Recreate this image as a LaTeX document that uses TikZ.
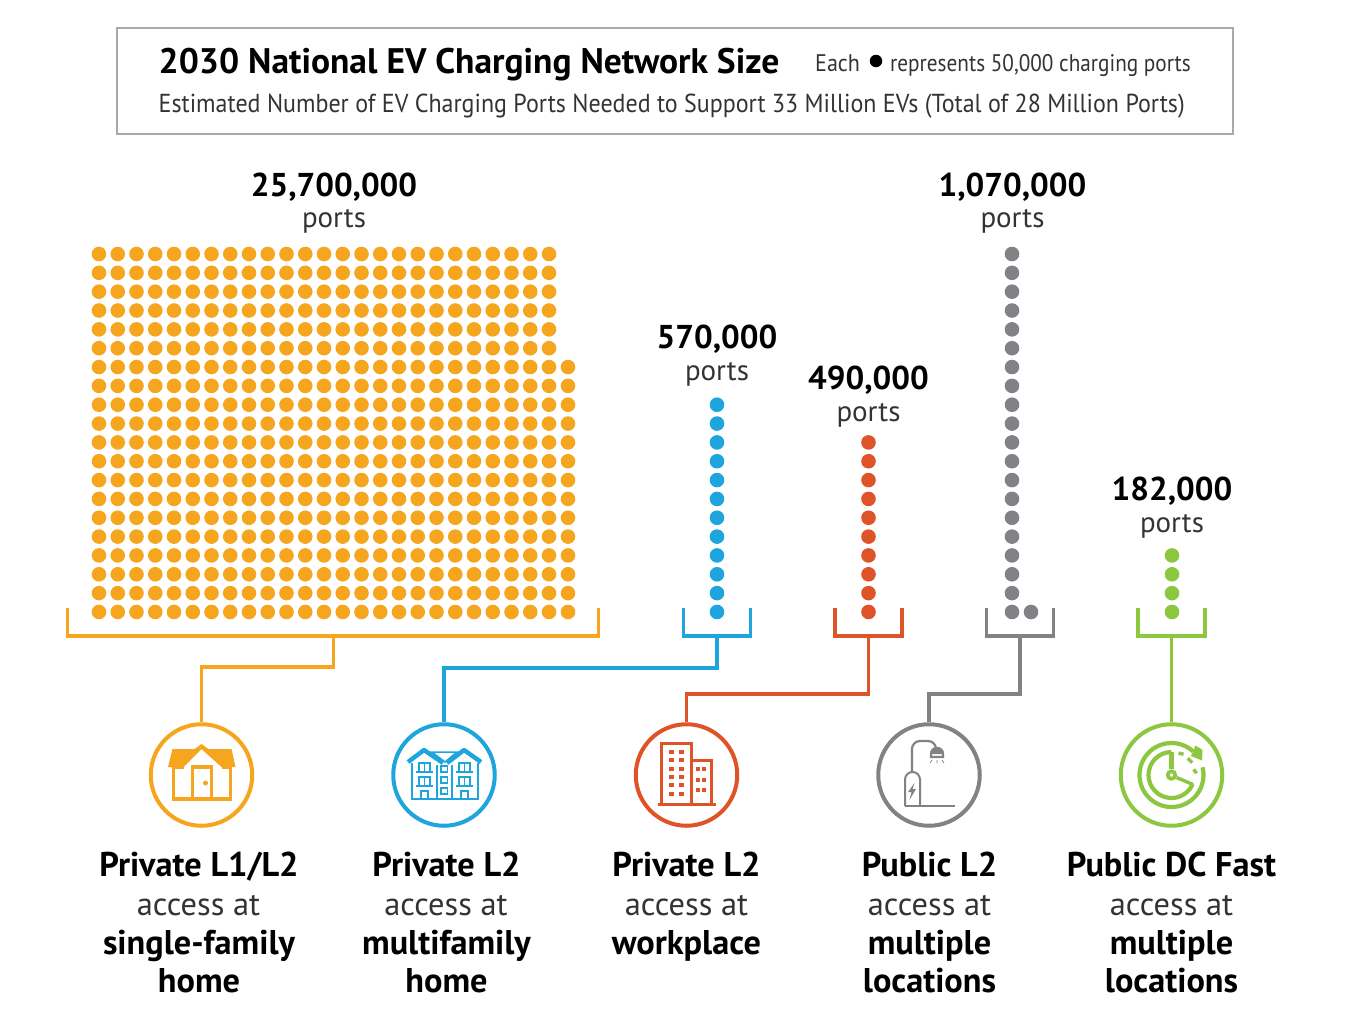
\documentclass[tikz,border=0pt]{standalone}
\usepackage{fontspec}
\setmainfont{PT Sans}
\usetikzlibrary{calc}
\definecolor{cO}{HTML}{F6A51F}
\definecolor{cB}{HTML}{1FA5DE}
\definecolor{cR}{HTML}{DE5428}
\definecolor{cG}{HTML}{808285}
\definecolor{cL}{HTML}{8DC63F}
\definecolor{cBox}{HTML}{A7A9AC}
\tikzset{
  px/.style={x=1pt,y=-1pt},
  dot/.style={circle,fill=#1,draw=none,inner sep=0pt,minimum size=14.6pt},
  link/.style={line width=3.6pt,draw=#1,line join=miter},
  ring/.style={circle,draw=#1,line width=4pt,fill=white,inner sep=0pt,minimum size=101.5pt},
  numtxt/.style={anchor=base,inner sep=0pt,font=\fontsize{33}{33}\selectfont\bfseries},
  lgt/.style={anchor=base,inner sep=0pt,font=\fontsize{29}{29}\selectfont,text=black!80},
  acc/.style={anchor=base,inner sep=0pt,font=\fontsize{32.4}{32.4}\selectfont,text=black!80},
  head/.style={anchor=base,inner sep=0pt,font=\fontsize{34.3}{34.3}\selectfont\bfseries},
}
\begin{document}
\begin{tikzpicture}[px]
\useasboundingbox (0,0) rectangle (1350,1023);
% title box
\node[draw=cBox,line width=1.6pt,minimum width=1116pt,minimum height=106pt,inner sep=0pt] (box) at (675,81) {};
\node[anchor=base west,inner sep=0pt,font=\fontsize{35.5}{35.5}\selectfont\bfseries] (title) at (158.5,73) {2030 National EV Charging Network Size};
\node[anchor=base west,inner sep=0pt,font=\fontsize{24}{24}\selectfont,text=black!80] (each) at (815,71) {\scalebox{0.92}[1]{Each}};
\node[circle,fill=black,inner sep=0pt,minimum size=12.5pt] (ebull) at (876,61) {};
\node[anchor=base west,inner sep=0pt,font=\fontsize{24}{24}\selectfont,text=black!80] (rep) at (890,71) {\scalebox{0.885}[1]{represents 50,000 charging ports}};
\node[anchor=base west,inner sep=0pt,font=\fontsize{26}{26}\selectfont,text=black!80] (sub) at (158.5,112) {\scalebox{0.923}[1]{Estimated Number of EV Charging Ports Needed to Support 33 Million EVs (Total of 28 Million Ports)}};
% dots
\foreach \c in {0,...,24}{\foreach \r in {0,...,19}{\node[dot=cO] (o\c-\r) at ({99+18.75*\c},{254+18.84*\r}) {};}}
\foreach \r in {6,...,19}{\node[dot=cO] (o25-\r) at (568,{254+18.84*\r}) {};}
\foreach \r in {8,...,19}{\node[dot=cB] (b\r) at (717,{254+18.84*\r}) {};}
\foreach \r in {10,...,19}{\node[dot=cR] (r\r) at (868.5,{254+18.84*\r}) {};}
\foreach \r in {0,...,19}{\node[dot=cG] (g\r) at (1012,{254+18.84*\r}) {};}
\node[dot=cG] (gx) at (1031,612) {};
\foreach \r in {16,...,19}{\node[dot=cL] (l\r) at (1172,{254+18.84*\r}) {};}
% numbers
\node[numtxt] (n1) at (334,196.5) {25,700,000};
\node[lgt] (p1) at (334,227) {ports};
\node[numtxt] (n2) at (717,348.5) {570,000};
\node[lgt] (p2) at (717,380) {ports};
\node[numtxt] (n3) at (868.5,389.5) {490,000};
\node[lgt] (p3) at (868.5,421) {ports};
\node[numtxt] (n4) at (1012.5,196.5) {1,070,000};
\node[lgt] (p4) at (1012.5,227) {ports};
\node[numtxt] (n5) at (1172,500.5) {182,000};
\node[lgt] (p5) at (1172,532) {ports};
% rings
\node[ring=cO] (c1) at (201.5,775) {};
\node[ring=cB] (c2) at (444,775) {};
\node[ring=cR] (c3) at (686.5,775) {};
\node[ring=cG] (c4) at (929,775) {};
\node[ring=cL] (c5) at (1171.5,775) {};
% brackets
\coordinate (t1) at (333.5,636); \coordinate (t2) at (717,636); \coordinate (t3) at (868.5,636); \coordinate (t4) at (1020,636); \coordinate (t5) at (1171.5,636);
\draw[link=cO] (67.5,608) |- (598.5,636) -- (598.5,608);
\draw[link=cB] (683.5,608) |- (750.5,636) -- (750.5,608);
\draw[link=cR] (835,608) |- (902,636) -- (902,608);
\draw[link=cG] (986.5,608) |- (1053.5,636) -- (1053.5,608);
\draw[link=cL] (1138,608) |- (1205,636) -- (1205,608);
% connectors
\draw[link=cO] (t1) -- ++(0,31) -| (c1.north);
\draw[link=cB] (t2) -- ++(0,32) -| (c2.north);
\draw[link=cR] (t3) -- ++(0,58) -| (c3.north);
\draw[link=cG] (t4) -- ++(0,58) -| (c4.north);
\draw[link=cL] (t5) -- (c5.north);
% house
\begin{scope}[shift={(c1.center)},x=1pt,y=-1pt]
\fill[cO] (-33.5,-8) -- (-29,-26) -- (-7,-26) -- (0,-31) -- (7,-26) -- (30,-26) -- (34,-8) -- (20,-8) -- (0,-26) -- (-18,-8) -- cycle;
\draw[cO,line width=3.2pt] (-18,-8) -- (-28,-8) -- (-28,24) -- (29,24) -- (29,-8) -- (20,-8);
\draw[cO,line width=3.2pt] (-9,24) -- (-9,-8) -- (10,-8) -- (10,24);
\fill[cO] (4,8) circle (2.5pt);
\end{scope}
% apartments
\begin{scope}[shift={(c2.center)},x=1pt,y=-1pt,cB,line width=1.5pt]
\draw[line width=4.4pt,line join=round] (-36,-13) -- (-20,-25) -- (-1,-12);
\draw[line width=4.4pt,line join=round] (3,-12) -- (20,-25) -- (37,-13);
\draw (-12,-23) -- (13,-23) -- (1,-13) -- cycle;
\draw (-32,-12) -- (-32,24) -- (34,24) -- (34,-12);
\draw (-7,-10) -- (-7,24) (8,-10) -- (8,24);
\foreach \y in {-3,11}{
 \draw (-28,\y) -- (-11,\y) (12,\y) -- (29,\y);
 \draw (-25,\y) -- (-25,{\y-9}) -- (-14,{\y-9}) -- (-14,\y) (-19.5,\y) -- (-19.5,{\y-9});
 \draw (15,\y) -- (15,{\y-9}) -- (26,{\y-9}) -- (26,\y) (20.5,\y) -- (20.5,{\y-9});
}
\draw (-23,24) -- (-23,16) -- (-16,16) -- (-16,24) (17,24) -- (17,16) -- (24,16) -- (24,24);
\foreach \y in {-6,5,16}{\draw (-3,{\y-3}) rectangle (3.5,{\y+3});}
\end{scope}
% office
\begin{scope}[shift={(c3.center)},x=1pt,y=-1pt,cR]
\draw[line width=3pt] (-25,28) -- (-25,-32) -- (5,-32) -- (5,28);
\draw[line width=3pt] (5,-15) -- (25,-15) -- (25,28);
\draw[line width=3pt] (-29,29) -- (29.5,29);
\foreach \y in {-23,-15,-6,2,10,19}{\fill (-17.5,{\y-1.8}) rectangle ++(5,3.6); \fill (-7.5,{\y-1.8}) rectangle ++(5,3.6);}
\foreach \y in {-6,5,15}{\fill (9,{\y-2}) rectangle ++(4,4); \fill (15,{\y-2}) rectangle ++(4,4);}
\end{scope}
% charger
\begin{scope}[shift={(c4.center)},x=1pt,y=-1pt,cG]
\draw[line width=2.2pt] (-24.5,31) -- (26,31);
\draw[line width=2pt] (-24,31) -- (-24,4.5) arc[start angle=180,end angle=0,x radius=7.5,y radius=-7.5] -- (-9,31);
\draw[line width=2.2pt,rounded corners=8pt] (-17,-3) -- (-17,-34) -- (7,-34) -- (7,-28);
\draw[line width=2.4pt,fill=white] (2,-18) -- (2,-21) arc[start angle=180,end angle=0,x radius=6,y radius=-6] -- (14,-18) -- cycle;
\fill (2,-21) -- (2,-23) arc[start angle=180,end angle=0,x radius=6,y radius=-4] -- (14,-21) -- cycle;
\draw[line width=.7pt] (3,-15) -- (1,-12) (8,-15) -- (8,-12) (13,-15) -- (15,-12);
\fill (-14.5,8) -- (-21,17) -- (-17.5,17) -- (-19.5,25) -- (-13,14) -- (-16.5,14) -- cycle;
\end{scope}
% clock
\begin{scope}[shift={(c5.center)},x=1pt,y=-1pt,cL,line width=4.2pt]
\draw (-14:32) arc[start angle=-14,end angle=312,radius=32];
\fill[cL] (24,-29.5) -- (31,-25) -- (30.5,-14.5) -- (19.5,-19) -- cycle;
\draw (0,-23) arc[start angle=270,end angle=23,radius=23];
\draw (0,-23) -- (0,-6);
\draw[line width=3.6pt] (0,0) circle (3.8pt);
\draw[line width=3.4pt] (5,2.5) -- (21.5,9.5);
\draw[line width=3.4pt] (7,-22) -- (12,-20.7) (16.3,-16.7) -- (20.7,-12.3) (22.3,-5.7) -- (25,-1.7);
\end{scope}
% labels
\node[head] (a1) at (199,876) {Private L1/L2};
\node[acc] (a2) at (198.5,915) {access at};
\node[head] (a3) at (199,954) {single-family};
\node[head] (a4) at (199,992) {home};
\node[head] (b1') at (446.5,876) {Private L2};
\node[acc] (b2') at (446,915) {access at};
\node[head] (b3') at (446.5,954) {multifamily};
\node[head] (b4') at (446.5,992) {home};
\node[head] (d1) at (686.5,876) {Private L2};
\node[acc] (d2) at (686.5,915) {access at};
\node[head] (d3) at (686.5,954) {workplace};
\node[head] (e1) at (929.5,876) {Public L2};
\node[acc] (e2) at (929.5,915) {access at};
\node[head] (e3) at (929.5,954) {multiple};
\node[head] (e4) at (929.5,992) {locations};
\node[head] (f1) at (1171.5,876) {Public DC Fast};
\node[acc] (f2) at (1171.5,915) {access at};
\node[head] (f3) at (1171.5,954) {multiple};
\node[head] (f4) at (1171.5,992) {locations};
\end{tikzpicture}
\end{document}
